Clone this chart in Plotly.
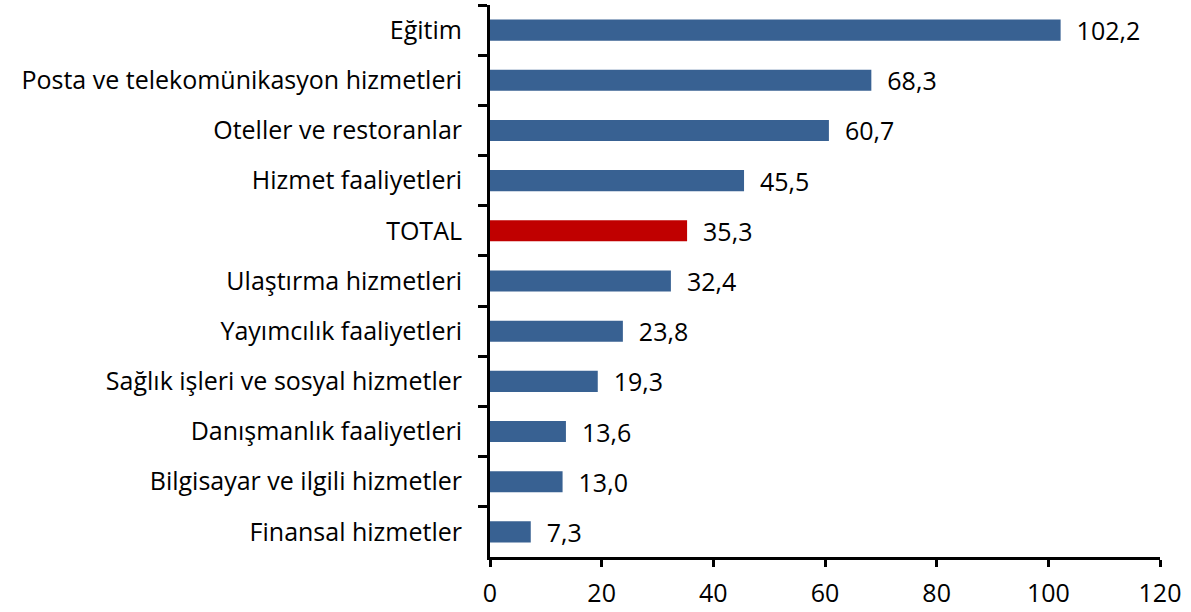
import plotly.graph_objects as go

categories = ["Eğitim", "Posta ve telekomünikasyon hizmetleri", "Oteller ve restoranlar",
              "Hizmet faaliyetleri", "TOTAL", "Ulaştırma hizmetleri", "Yayımcılık faaliyetleri",
              "Sağlık işleri ve sosyal hizmetler", "Danışmanlık faaliyetleri",
              "Bilgisayar ve ilgili hizmetler", "Finansal hizmetler"]
values = [102.2, 68.3, 60.7, 45.5, 35.3, 32.4, 23.8, 19.3, 13.6, 13.0, 7.3]
x_ticks = [0, 20, 40, 60, 80, 100, 120]

colors = ["#C00000" if c == "TOTAL" else "#386192" for c in categories]

FS = 25

fig = go.Figure(go.Bar(
    x=values, y=categories, orientation="h",
    marker=dict(color=colors, line=dict(width=0)),
    width=0.42,
    texttemplate="  %{x:.1f}", textposition="outside", constraintext="none",
    textfont=dict(size=FS, color="black"),
    cliponaxis=False,
))

fig.update_layout(
    width=1191, height=612,
    margin=dict(l=490, r=31, t=5, b=55),
    plot_bgcolor="white", paper_bgcolor="white",
    separators=",.",
    font=dict(family="Open Sans, sans-serif", size=FS, color="black"),
    showlegend=False,
    xaxis=dict(range=[0, 120], tickvals=x_ticks, showgrid=False, zeroline=False,
               showline=True, linecolor="black", linewidth=3, automargin=False,
               ticks="outside", ticklen=7, tickwidth=3, tickcolor="black",
               tickfont=dict(size=FS), ticklabelstandoff=5),
    yaxis=dict(type="category", categoryorder="array", categoryarray=categories,
               autorange="reversed", showgrid=False, zeroline=False, automargin=False,
               showline=True, linecolor="black", linewidth=3,
               ticks="outside", tickson="boundaries", ticklen=9, tickwidth=3,
               tickcolor="black", tickfont=dict(size=FS), ticklabelstandoff=20),
)

fig.write_html("out.html", config={"displayModeBar": False},
               post_script="document.body.style.margin='0';")
